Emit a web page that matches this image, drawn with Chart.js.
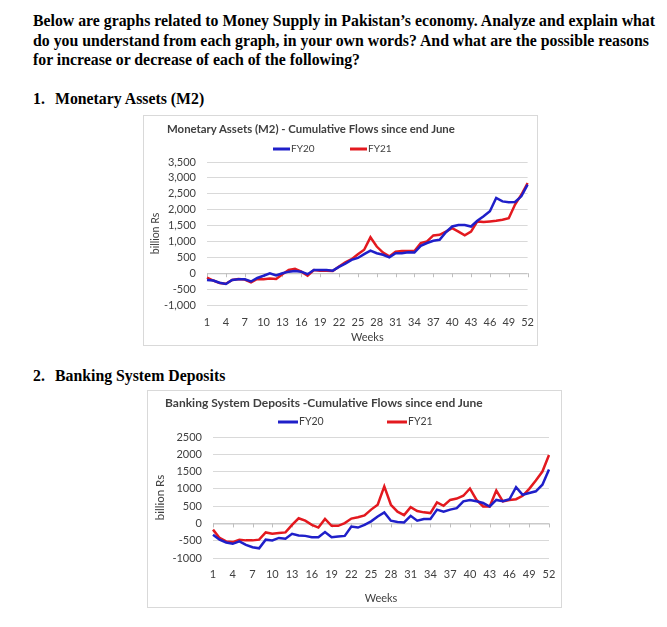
<!DOCTYPE html>
<html lang="en">
  <head>
    <meta charset="UTF-8" />
    <title>Money Supply in Pakistan</title>
    <script src="https://cdn.jsdelivr.net/npm/chart.js@4.4.1/dist/chart.umd.min.js"></script>
    <style>
      body {
        margin: 0;
        background: #fff;
        width: 667px;
        height: 627px;
        position: relative;
        overflow: hidden;
      }
      .doc {
        position: absolute;
        font-family: "Liberation Serif", "Times New Roman", serif;
        font-weight: bold;
        font-size: 15.8px;
        line-height: 1;
        color: #000;
        white-space: nowrap;
      }
      .box {
        position: absolute;
        border: 1px solid #d9d9d9;
        background: #fff;
      }
      .box canvas {
        position: absolute;
        left: 0;
        top: 0;
      }
      .chart-title {
        position: absolute;
        font-family: Lato, "Open Sans", sans-serif;
        font-weight: bold;
        color: #404040;
        white-space: nowrap;
        line-height: 1;
      }
    </style>
  </head>
  <body>
    <div class="doc" style="left: 33px; top: 13px">Below are graphs related to Money Supply in Pakistan’s economy. Analyze and explain what</div>
    <div class="doc" style="left: 33px; top: 33px">do you understand from each graph, in your own words? And what are the possible reasons</div>
    <div class="doc" style="left: 33px; top: 52px">for increase or decrease of each of the following?</div>

    <div class="doc" style="left: 33px; top: 91px">1.</div>
    <div class="doc" style="left: 55px; top: 91px">Monetary Assets (M2)</div>

    <div class="box" style="left: 143px; top: 115px; width: 393px; height: 229px">
      <canvas id="m2Chart" width="393" height="229"></canvas>
      <div class="chart-title" style="left: 23px; top: 7px; font-size: 11.4px">Monetary Assets (M2) - Cumulative Flows since end June</div>
    </div>

    <div class="doc" style="left: 33px; top: 368px">2.</div>
    <div class="doc" style="left: 55px; top: 368px">Banking System Deposits</div>

    <div class="box" style="left: 147px; top: 390px; width: 413px; height: 216px">
      <canvas id="depChart" width="413" height="216"></canvas>
      <div class="chart-title" style="left: 17px; top: 6px; font-size: 12px">Banking System Deposits -Cumulative Flows since end June</div>
    </div>

    <script>
      const weeks = [];
      for (let w = 1; w <= 52; w++) weeks.push(String(w));

      // Monetary Assets (M2), billion Rs
      const m2FY20 = [
        -210, -230, -300, -340, -210, -190, -190, -260, -150, -80,
        0, -70, 0, 50, 70, 50, -30, 100, 100, 100,
        80, 200, 300, 420, 480, 600, 710, 630, 580, 500,
        630, 630, 660, 650, 860, 950, 1020, 1050, 1290, 1470,
        1520, 1520, 1470, 1650, 1790, 1950, 2370, 2260, 2230, 2240,
        2420, 2790
      ];
      const m2FY21 = [
        -140, -230, -310, -330, -210, -180, -200, -290, -180, -190,
        -170, -180, -30, 100, 140, 50, -80, 100, 80, 80,
        70, 210, 340, 440, 600, 740, 1130, 840, 650, 530,
        680, 700, 700, 700, 950, 1000, 1190, 1210, 1310, 1420,
        1310, 1190, 1310, 1630, 1610, 1630, 1650, 1680, 1730, 2160,
        2470, 2840
      ];

      // Banking System Deposits, billion Rs
      const depFY20 = [
        -330, -470, -550, -590, -520, -620, -690, -720, -470, -490,
        -420, -440, -300, -350, -360, -400, -400, -250, -400, -380,
        -360, -90, -120, -40, 60, 200, 320, 80, 40, 30,
        220, 80, 130, 130, 400, 340, 400, 440, 640, 680,
        640, 590, 490, 680, 640, 700, 1050, 830, 880, 930,
        1120, 1560
      ];
      const depFY21 = [
        -180, -420, -520, -540, -470, -490, -490, -470, -260, -300,
        -280, -260, -40, 150, 80, -40, -120, 130, -70, -70,
        10, 140, 180, 230, 400, 540, 1070, 540, 340, 240,
        470, 360, 320, 300, 610, 510, 680, 720, 800, 1010,
        680, 490, 490, 950, 640, 680, 700, 800, 1000, 1240,
        1500, 1980
      ];

      const blue = "#1f1fc9";
      const red = "#e3191f";
      const textColor = "#404040";
      const chartFont = "Lato";

      // excel-style legend (line + label) and tick marks on the zero line
      const excelBits = {
        id: "excelBits",
        beforeDatasetsDraw(chart, args, opts) {
          const { ctx, scales } = chart;
          const y0 = scales.y.getPixelForValue(0);
          ctx.save();
          ctx.strokeStyle = "#bfbfbf";
          ctx.lineWidth = 1;
          ctx.beginPath();
          ctx.moveTo(chart.chartArea.left, y0 + 0.5);
          ctx.lineTo(chart.chartArea.right, y0 + 0.5);
          for (let i = 0; i < weeks.length; i += 3) {
            const x = Math.round(scales.x.getPixelForValue(i)) + 0.5;
            ctx.moveTo(x, y0);
            ctx.lineTo(x, y0 + 4);
          }
          ctx.stroke();
          ctx.restore();
        },
        afterDraw(chart, args, opts) {
          const { ctx } = chart;
          ctx.save();
          ctx.font = opts.fontSize + "px " + chartFont;
          ctx.textBaseline = "middle";
          chart.data.datasets.forEach((ds, i) => {
            const x = opts.x[i];
            ctx.strokeStyle = ds.borderColor;
            ctx.lineWidth = 3;
            ctx.beginPath();
            ctx.moveTo(x, opts.y);
            ctx.lineTo(x + opts.len, opts.y);
            ctx.stroke();
            ctx.fillStyle = textColor;
            ctx.fillText(ds.label, x + opts.len + 1, opts.y);
          });
          ctx.restore();
        }
      };

      function makeChart(id, fy20, fy21, opts) {
        const ctx = document.getElementById(id).getContext("2d");
        return new Chart(ctx, {
          type: "line",
          data: {
            labels: weeks,
            datasets: [
              {
                label: "FY20",
                data: fy20,
                borderColor: blue,
                backgroundColor: blue,
                borderWidth: 2.5,
                pointRadius: 0,
                tension: 0
              },
              {
                label: "FY21",
                data: fy21,
                borderColor: red,
                backgroundColor: red,
                borderWidth: 2.5,
                pointRadius: 0,
                tension: 0
              }
            ]
          },
          plugins: [excelBits],
          options: {
            responsive: false,
            animation: false,
            layout: {
              padding: opts.padding
            },
            plugins: {
              title: { display: false },
              tooltip: { enabled: false },
              legend: { display: false },
              excelBits: opts.legend
            },
            scales: {
              x: {
                offset: false,
                grid: { display: false },
                border: { display: false },
                ticks: {
                  color: textColor,
                  font: { family: chartFont, size: opts.fontSize },
                  autoSkip: false,
                  maxRotation: 0,
                  padding: opts.xPad,
                  callback: function (value, index) {
                    return index % 3 === 0 ? this.getLabelForValue(value) : "";
                  }
                },
                title: {
                  display: true,
                  text: "Weeks",
                  color: textColor,
                  font: { family: chartFont, size: opts.fontSize },
                  padding: { top: 2, bottom: 0 }
                },
                afterFit: (scale) => {
                  scale.height = opts.xHeight;
                }
              },
              y: {
                min: opts.min,
                max: opts.max,
                grid: {
                  color: "#d9d9d9",
                  drawTicks: false
                },
                border: { display: false },
                ticks: {
                  stepSize: 500,
                  autoSkip: false,
                  color: textColor,
                  font: { family: chartFont, size: opts.fontSize },
                  padding: 11,
                  callback: opts.tickFormat
                },
                title: {
                  display: true,
                  text: "billion Rs",
                  color: textColor,
                  font: { family: chartFont, size: opts.yTitleSize },
                  padding: 0
                },
                afterFit: (scale) => {
                  scale.width = opts.yWidth;
                }
              }
            }
          }
        });
      }

      makeChart("m2Chart", m2FY20, m2FY21, {
        min: -1000,
        max: 3500,
        fontSize: 11,
        yTitleSize: 10.5,
        xPad: 3,
        padding: { top: 46, left: 5, right: 7, bottom: 1 },
        yWidth: 58,
        xHeight: 39,
        legend: { x: [129, 206], y: 33, len: 17, fontSize: 10 },
        tickFormat: (v) => v.toLocaleString("en-US")
      });

      makeChart("depChart", depFY20, depFY21, {
        min: -1000,
        max: 2500,
        fontSize: 11,
        yTitleSize: 11.5,
        xPad: 2,
        padding: { top: 46, left: 5, right: 12, bottom: 2 },
        yWidth: 60,
        xHeight: 47,
        legend: { x: [130, 239], y: 31, len: 20, fontSize: 10.5 },
        tickFormat: (v) => String(v)
      });
    </script>
  </body>
</html>
